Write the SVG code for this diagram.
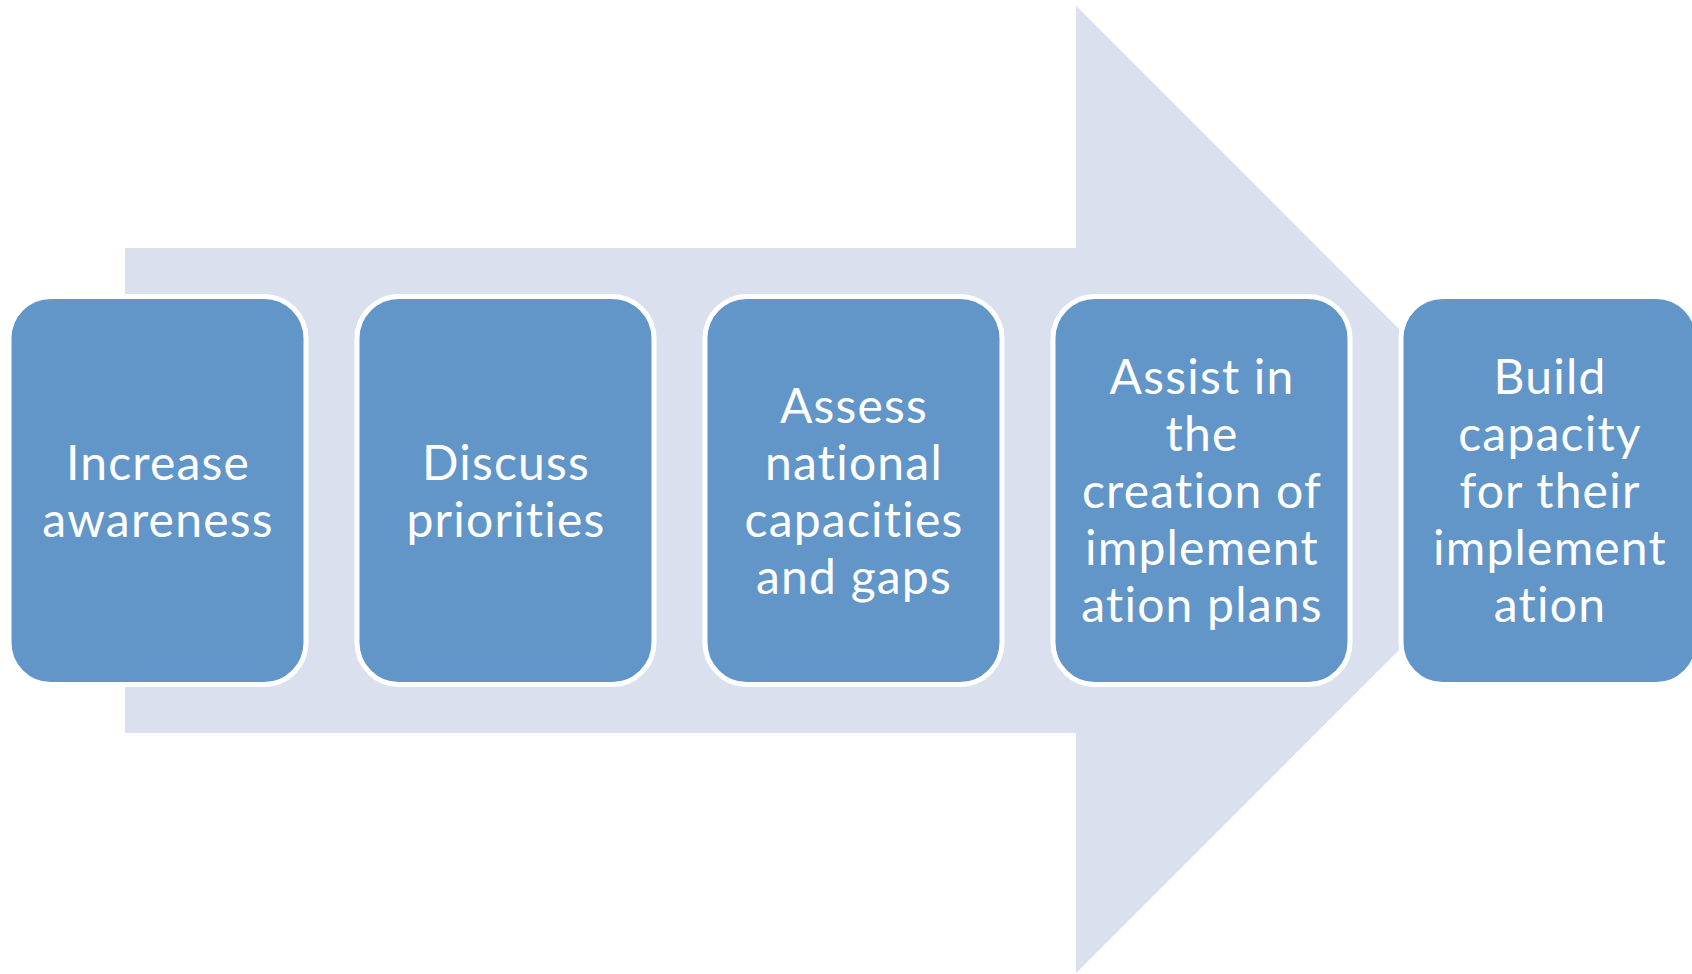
<svg xmlns="http://www.w3.org/2000/svg" width="1692" height="974" viewBox="0 0 1692 974">
<style>
.box{fill:#6296C8;stroke:#FFFFFF;stroke-width:5}
.lbl{font-family:Lato,"Open Sans","Liberation Sans",sans-serif;font-size:48px;letter-spacing:1.2px;fill:#FFFFFF;text-anchor:middle}
</style>
<rect width="1692" height="974" fill="#FFFFFF"/>
<g id="arrow">
<polygon points="125,248 1076,248 1076,5.7 1559.5,489.5 1076,973.3 1076,733 125,733" fill="#DAE0EE"/>
</g>
<g id="connectors"></g>
<g id="node1">
<rect class="box" x="9" y="296.5" width="297" height="388" rx="42"/>
<text class="lbl" x="157.5"><tspan x="158" y="479.5">Increase</tspan><tspan x="158" y="536.5">awareness</tspan></text>
</g>
<g id="node2">
<rect class="box" x="357" y="296.5" width="297" height="388" rx="42"/>
<text class="lbl" x="505.5"><tspan x="506" y="479.5">Discuss</tspan><tspan x="506" y="536.5">priorities</tspan></text>
</g>
<g id="node3">
<rect class="box" x="705" y="296.5" width="297" height="388" rx="42"/>
<text class="lbl" x="853.5"><tspan x="854" y="422.5">Assess</tspan><tspan x="854" y="479.5">national</tspan><tspan x="854" y="536.5">capacities</tspan><tspan x="854" y="593.5">and gaps</tspan></text>
</g>
<g id="node4">
<rect class="box" x="1053" y="296.5" width="297" height="388" rx="42"/>
<text class="lbl" x="1201.5"><tspan x="1202" y="394">Assist in</tspan><tspan x="1202" y="451">the</tspan><tspan x="1202" y="508">creation of</tspan><tspan x="1202" y="565">implement</tspan><tspan x="1202" y="622">ation plans</tspan></text>
</g>
<g id="node5">
<rect class="box" x="1401" y="296.5" width="297" height="388" rx="42"/>
<text class="lbl" x="1549.5"><tspan x="1550" y="394">Build</tspan><tspan x="1550" y="451">capacity</tspan><tspan x="1550" y="508">for their</tspan><tspan x="1550" y="565">implement</tspan><tspan x="1550" y="622">ation</tspan></text>
</g>
</svg>
